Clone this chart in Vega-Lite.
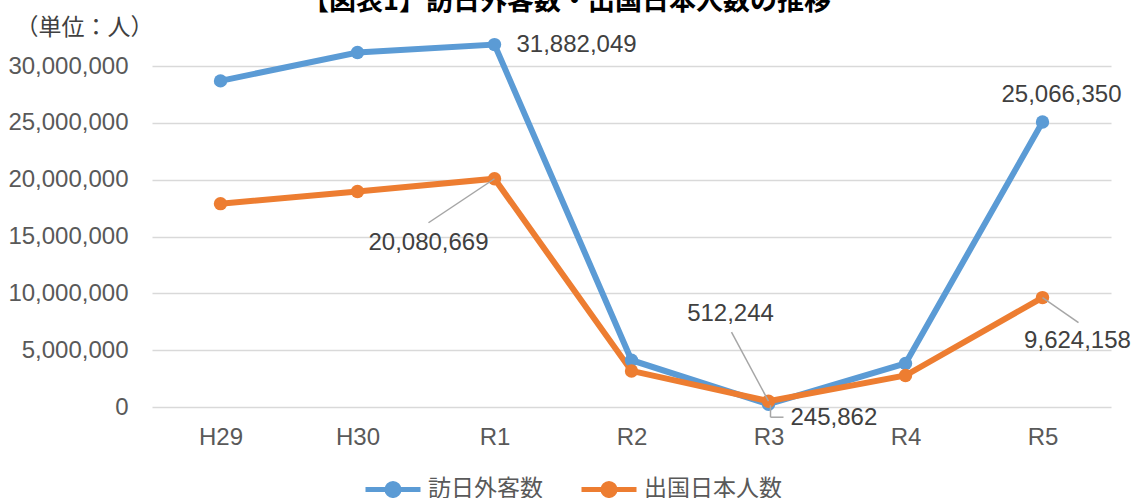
{
  "$schema": "https://vega.github.io/schema/vega-lite/v6.json",
  "width": 959,
  "height": 341,
  "autosize": {"type": "none"},
  "padding": {"left": 152, "top": 66, "right": 22, "bottom": 91},
  "background": "white",
  "config": {"view": {"stroke": null}, "font": "Liberation Sans"},
  "title": {
    "text": "【図表1】訪日外客数・出国日本人数の推移",
    "font": "Noto Sans CJK JP",
    "fontSize": 27,
    "fontWeight": "bold",
    "color": "#000000",
    "anchor": "middle",
    "frame": "group",
    "baseline": "bottom",
    "dx": -65,
    "dy": 30,
    "offset": 3
  },
  "data": {
    "values": [
      {"year": "H29", "series": "訪日外客数", "value": 28691073},
      {"year": "H30", "series": "訪日外客数", "value": 31191856},
      {"year": "R1", "series": "訪日外客数", "value": 31882049},
      {"year": "R2", "series": "訪日外客数", "value": 4115828},
      {"year": "R3", "series": "訪日外客数", "value": 245862},
      {"year": "R4", "series": "訪日外客数", "value": 3831900},
      {"year": "R5", "series": "訪日外客数", "value": 25066350},
      {"year": "H29", "series": "出国日本人数", "value": 17889292},
      {"year": "H30", "series": "出国日本人数", "value": 18954031},
      {"year": "R1", "series": "出国日本人数", "value": 20080669},
      {"year": "R2", "series": "出国日本人数", "value": 3174219},
      {"year": "R3", "series": "出国日本人数", "value": 512244},
      {"year": "R4", "series": "出国日本人数", "value": 2771770},
      {"year": "R5", "series": "出国日本人数", "value": 9624158}
    ]
  },
  "encoding": {
    "x": {
      "field": "year",
      "type": "ordinal",
      "sort": ["H29", "H30", "R1", "R2", "R3", "R4", "R5"],
      "scale": {"type": "point", "padding": 0.5},
      "axis": {
        "title": null,
        "labelAngle": 0,
        "labelFontSize": 24,
        "labelColor": "#595959",
        "labelFont": "Liberation Sans",
        "ticks": false,
        "domain": false,
        "labelPadding": 18
      }
    },
    "y": {
      "field": "value",
      "type": "quantitative",
      "scale": {"domain": [0, 30000000]},
      "axis": {
        "values": [0, 5000000, 10000000, 15000000, 20000000, 25000000, 30000000],
        "format": ",.0f",
        "labelFontSize": 24,
        "labelColor": "#595959",
        "labelFont": "Liberation Sans",
        "labelPadding": 24,
        "ticks": false,
        "domain": false,
        "grid": true,
        "gridColor": "#D9D9D9",
        "gridWidth": 1.5,
        "title": "（単位：人）",
        "titleFont": "Noto Sans CJK JP",
        "titleFontSize": 23,
        "titleFontWeight": "normal",
        "titleColor": "#404040",
        "titleAngle": 0,
        "titleAlign": "center",
        "titleBaseline": "middle",
        "titleX": -68,
        "titleY": -39
      }
    },
    "color": {
      "field": "series",
      "type": "nominal",
      "scale": {"domain": ["訪日外客数", "出国日本人数"], "range": ["#5B9BD5", "#ED7D31"]},
      "legend": {
        "title": null,
        "orient": "none",
        "direction": "horizontal",
        "legendX": 211,
        "legendY": 393,
        "symbolType": "M-1,0H1M-0.22,0A0.22,0.22 0 1,0 0.22,0A0.22,0.22 0 1,0 -0.22,0Z",
        "symbolSize": 3025,
        "symbolStrokeWidth": 5,
        "labelFont": "Noto Sans CJK JP",
        "labelFontSize": 23,
        "labelColor": "#595959",
        "labelOffset": 5,
        "columnPadding": 28,
        "encode": {
          "symbols": {
            "update": {
              "stroke": {"scale": "color", "field": "value"},
              "fill": {"scale": "color", "field": "value"},
              "strokeWidth": {"value": 5},
              "opacity": {"value": 1}
            }
          }
        }
      }
    }
  },
  "layer": [
    {"mark": {"type": "line", "strokeWidth": 6}},
    {"mark": {"type": "point", "filled": true, "size": 180, "opacity": 1}},
    {
      "transform": [{"filter": "datum.series == '出国日本人数' && datum.year == 'R1'"}],
      "mark": {"type": "rule", "color": "#A6A6A6", "strokeWidth": 1.5, "x2Offset": -66, "y2Offset": 44},
      "encoding": {"x2": {"field": "year"}, "y2": {"field": "value"}, "color": {"value": "#A6A6A6"}}
    },
    {
      "transform": [{"filter": "datum.series == '出国日本人数' && datum.year == 'R3'"}],
      "mark": {"type": "rule", "color": "#A6A6A6", "strokeWidth": 1.5, "x2Offset": -37, "y2Offset": -69},
      "encoding": {"x2": {"field": "year"}, "y2": {"field": "value"}, "color": {"value": "#A6A6A6"}}
    },
    {
      "transform": [{"filter": "datum.series == '出国日本人数' && datum.year == 'R5'"}],
      "mark": {"type": "rule", "color": "#A6A6A6", "strokeWidth": 1.5, "x2Offset": 36, "y2Offset": 25},
      "encoding": {"x2": {"field": "year"}, "y2": {"field": "value"}, "color": {"value": "#A6A6A6"}}
    },
    {
      "transform": [{"filter": "datum.series == '訪日外客数' && datum.year == 'R3'"}],
      "mark": {"type": "rule", "color": "#A6A6A6", "strokeWidth": 1.5, "xOffset": 2, "yOffset": 1, "x2Offset": 2, "y2Offset": 13},
      "encoding": {"x2": {"field": "year"}, "y2": {"field": "value"}, "color": {"value": "#A6A6A6"}}
    },
    {
      "transform": [{"filter": "datum.series == '訪日外客数' && datum.year == 'R3'"}],
      "mark": {"type": "rule", "color": "#A6A6A6", "strokeWidth": 1.5, "xOffset": 2, "yOffset": 13, "x2Offset": 15, "y2Offset": 13},
      "encoding": {"x2": {"field": "year"}, "y2": {"field": "value"}, "color": {"value": "#A6A6A6"}}
    },
    {
      "transform": [{"filter": "datum.series == '訪日外客数' && datum.year == 'R1'"}],
      "mark": {"type": "text", "align": "left", "baseline": "middle", "dx": 22, "dy": 0, "fontSize": 24, "font": "Liberation Sans"},
      "encoding": {"text": {"field": "value", "format": ","}, "color": {"value": "#404040"}}
    },
    {
      "transform": [{"filter": "datum.series == '出国日本人数' && datum.year == 'R1'"}],
      "mark": {"type": "text", "align": "center", "baseline": "middle", "dx": -66, "dy": 64, "fontSize": 24, "font": "Liberation Sans"},
      "encoding": {"text": {"field": "value", "format": ","}, "color": {"value": "#404040"}}
    },
    {
      "transform": [{"filter": "datum.series == '出国日本人数' && datum.year == 'R3'"}],
      "mark": {"type": "text", "align": "center", "baseline": "middle", "dx": -38, "dy": -87, "fontSize": 24, "font": "Liberation Sans"},
      "encoding": {"text": {"field": "value", "format": ","}, "color": {"value": "#404040"}}
    },
    {
      "transform": [{"filter": "datum.series == '訪日外客数' && datum.year == 'R3'"}],
      "mark": {"type": "text", "align": "left", "baseline": "middle", "dx": 22, "dy": 14, "fontSize": 24, "font": "Liberation Sans"},
      "encoding": {"text": {"field": "value", "format": ","}, "color": {"value": "#404040"}}
    },
    {
      "transform": [{"filter": "datum.series == '訪日外客数' && datum.year == 'R5'"}],
      "mark": {"type": "text", "align": "center", "baseline": "middle", "dx": 19, "dy": -27, "fontSize": 24, "font": "Liberation Sans"},
      "encoding": {"text": {"field": "value", "format": ","}, "color": {"value": "#404040"}}
    },
    {
      "transform": [{"filter": "datum.series == '出国日本人数' && datum.year == 'R5'"}],
      "mark": {"type": "text", "align": "center", "baseline": "middle", "dx": 35, "dy": 43, "fontSize": 24, "font": "Liberation Sans"},
      "encoding": {"text": {"field": "value", "format": ","}, "color": {"value": "#404040"}}
    }
  ]
}
